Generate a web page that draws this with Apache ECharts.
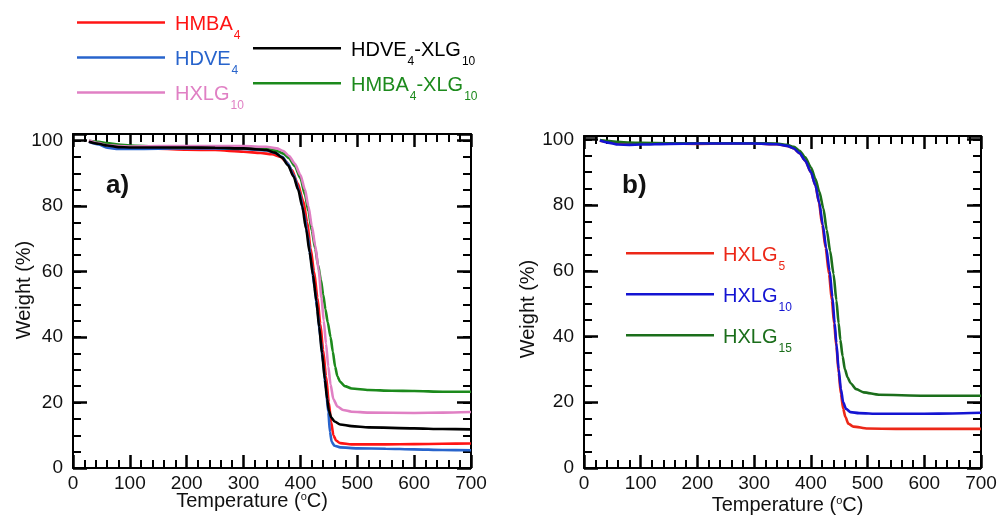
<!DOCTYPE html>
<html><head><meta charset="utf-8">
<script src="https://cdn.jsdelivr.net/npm/echarts@6/dist/echarts.min.js"></script>
<style>html,body{margin:0;padding:0;background:#fff}#c{width:998px;height:516px}</style>
</head><body><div id="c"></div>
<script>
// ---- tick values ----
const xTickValues = [0, 100, 200, 300, 400, 500, 600, 700];
const yTickValues = [0, 20, 40, 60, 80, 100];

// ---- panel a) (temperature °C, weight %) ----
const hmba4 = [[28,99.8],[45,99.2],[60,98.5],[80,97.9],[100,97.6],[150,97.5],[200,97.2],[250,97.1],[300,96.6],[330,96.2],[350,95.8],[365,95.0],[375,93.5],[385,91],[395,87],[405,81.5],[412,75],[418,67],[424,60],[430,52],[435,44],[440,36],[445,28],[450,20],[454,14],[458,10],[463,8.3],[470,7.6],[490,7.2],[550,7.2],[600,7.3],[650,7.4],[700,7.5]];
const hdve4 = [[28,99.6],[45,98.8],[60,97.8],[80,97.4],[100,97.4],[150,97.5],[200,97.6],[250,97.6],[300,97.4],[340,97.0],[355,96.3],[368,95],[378,93],[388,89.5],[398,84.5],[406,78],[413,71],[419,63],[425,55],[430,48],[435,40],[440,32],[445,24],[449,17],[452,11],[455,8],[460,6.8],[470,6.3],[500,6.0],[550,5.9],[600,5.7],[650,5.5],[700,5.4]];
const hxlg10a = [[28,100],[45,99.2],[60,98.6],[80,98.3],[100,98.2],[150,98.3],[200,98.3],[250,98.3],[300,98.3],[340,98.1],[358,97.6],[370,96.8],[380,95.3],[390,93],[400,89.5],[408,85],[414,80],[420,74],[426,68],[432,60.5],[437,52],[441,45],[445,38],[449,31],[453,25.5],[458,21],[465,18.8],[475,17.7],[490,17.2],[520,16.9],[600,16.8],[650,16.9],[700,17.1]];
const hdve4xlg10 = [[28,99.6],[45,99.0],[60,98.5],[80,98.0],[100,97.9],[150,97.9],[200,97.9],[250,97.8],[300,97.6],[340,97.1],[355,96.3],[368,94.8],[378,92.5],[388,89],[396,85],[403,80],[410,73],[416,66],[422,59],[428,51],[433,43],[438,35],[443,27],[447,21],[450,17.5],[454,15.5],[460,14.2],[470,13.3],[490,12.8],[520,12.4],[600,12.1],[650,11.9],[700,11.8]];
const hmba4xlg10 = [[28,99.9],[45,99.6],[60,99.2],[80,98.8],[100,98.5],[150,98.1],[200,97.9],[250,97.8],[300,97.7],[340,97.4],[358,96.9],[370,96.0],[380,94.6],[390,92.2],[400,88.5],[408,83.5],[414,78.5],[420,72.5],[426,67],[431,62],[436,57.5],[440,53],[444,48.5],[448,44.5],[453,40],[457,35.5],[461,31],[465,28],[470,26.3],[478,25],[490,24.3],[520,23.8],[560,23.6],[600,23.5],[650,23.3],[700,23.3]];

// ---- panel b) ----
const hxlg5 = [[28,99.6],[45,99.2],[60,98.9],[80,98.8],[100,98.8],[150,98.7],[200,98.6],[250,98.7],[300,98.7],[340,98.5],[358,98.0],[370,97.2],[380,95.8],[390,93.5],[400,90],[408,86],[414,81],[420,74],[426,67],[432,59],[437,51],[441,44],[445,37],[449,29],[453,22.5],[457,18],[461,15.5],[466,13.5],[475,12.6],[500,12.0],[550,11.9],[600,11.9],[650,11.9],[700,11.9]];
const hxlg10b = [[28,99.6],[45,98.9],[60,98.4],[80,98.3],[100,98.4],[150,98.6],[200,98.7],[250,98.7],[300,98.7],[340,98.5],[358,98.0],[370,97.2],[380,95.8],[390,93.5],[400,90],[408,86],[415,80.5],[421,74],[427,67],[433,60],[438,52],[442,44],[445,38],[449,30],[453,24],[457,20],[462,18],[470,17],[485,16.7],[520,16.5],[600,16.5],[650,16.6],[700,16.8]];
const hxlg15 = [[28,99.8],[45,99.5],[60,99.2],[80,99],[100,98.9],[150,98.8],[200,98.8],[250,98.8],[300,98.8],[340,98.7],[358,98.3],[370,97.7],[380,96.5],[390,94.5],[400,91.5],[408,88],[415,84],[422,79],[428,72.5],[434,66],[440,59],[445,51],[449,44],[452,39],[456,34],[460,30],[465,27.5],[470,25.8],[480,24],[493,23],[520,22.3],[600,22.0],[650,22.0],[700,22.0]];

// ---- names / labels ----
const seriesLabels = {
  'HMBA4': '{a|HMBA}{s|4}',
  'HDVE4': '{a|HDVE}{s|4}',
  'HXLG10 (a)': '{a|HXLG}{s|10}',
  'HDVE4-XLG10': '{a|HDVE}{s|4}{m|-XLG}{s|10}',
  'HMBA4-XLG10': '{a|HMBA}{s|4}{m|-XLG}{s|10}',
  'HXLG5': '{a|HXLG}{s|5}',
  'HXLG10 (b)': '{a|HXLG}{s|10}',
  'HXLG15': '{a|HXLG}{s|15}'
};
const colors = {
  'HMBA4': '#ff1414', 'HDVE4': '#2864cc', 'HXLG10 (a)': '#e080c4',
  'HDVE4-XLG10': '#000000', 'HMBA4-XLG10': '#1c8a1c',
  'HXLG5': '#ec2818', 'HXLG10 (b)': '#1414d2', 'HXLG15': '#1b6e1b'
};

const FONT = 'Liberation Sans, Arial, sans-serif';
const grids = [
  {left: 73, top: 134, width: 398, height: 334, outerBoundsMode: 'none', containLabel: false},
  {left: 584, top: 136, width: 397, height: 332, outerBoundsMode: 'none', containLabel: false}
];
const yMax = [102, 101];

const xAxes = [], yAxes = [];
const nameRich = {
  m: {fontSize: 20, lineHeight: 22, verticalAlign: 'top', fontFamily: FONT, color: '#111'},
  s: {fontSize: 11, lineHeight: 12, verticalAlign: 'top', fontFamily: FONT, color: '#111'}
};
grids.forEach((g, gi) => {
  ['bottom', 'top'].forEach(pos => {
    xAxes.push({
      type: 'value', gridIndex: gi, position: pos, offset: 0, min: 0, max: 700, interval: 100,
      name: pos === 'bottom' ? '{m|Temperature (}{s|o}{m|C)}' : '',
      nameLocation: 'middle', nameGap: gi === 0 ? 23 : 27, nameMoveOverlap: false,
      nameTextStyle: {rich: nameRich, padding: gi === 0 ? [0, 40, 0, 0] : [0, 0, 0, 10]},
      axisLine: {show: true, onZero: false, lineStyle: {color: '#000', width: 2}},
      axisTick: {show: true, inside: true, length: 13, lineStyle: {color: '#000', width: 2.5}},
      minorTick: {show: true, splitNumber: 5, length: 8, lineStyle: {color: '#000', width: 2}},
      splitLine: {show: false},
      axisLabel: {show: pos === 'bottom', fontSize: 19, color: '#111', fontFamily: FONT, margin: 6,
        formatter: v => xTickValues.includes(v) ? String(v) : ''}
    });
  });
  ['left', 'right'].forEach(pos => {
    // major ticks
    yAxes.push({
      type: 'value', gridIndex: gi, position: pos, offset: 0, min: 0, max: yMax[gi], interval: 20,
      name: pos === 'left' ? 'Weight (%)' : '',
      nameLocation: 'middle', nameGap: gi === 0 ? 39 : 46, nameRotate: 90, nameMoveOverlap: false,
      nameTextStyle: {fontSize: 20, color: '#111', fontFamily: FONT,
        padding: gi === 0 ? [0, 0, 0, 22] : [0, 14, 0, 0]},
      axisLine: {show: true, onZero: false, lineStyle: {color: '#000', width: 2}},
      axisTick: {show: true, inside: true, length: 14, lineStyle: {color: '#000', width: 2.5}},
      splitLine: {show: false},
      axisLabel: {show: pos === 'left', fontSize: 19, color: '#111', fontFamily: FONT, margin: 10,
        formatter: v => yTickValues.includes(v) ? String(v) : ''}
    });
    // minor ticks
    yAxes.push({
      type: 'value', gridIndex: gi, position: pos, offset: 0, min: 0, max: yMax[gi], interval: 5,
      axisLine: {show: false, onZero: false},
      axisTick: {show: true, inside: true, length: 8, lineStyle: {color: '#000', width: 2}},
      splitLine: {show: false}, axisLabel: {show: false}
    });
  });
});

function mk(name, data, gi) {
  return {
    name, type: 'line', data, xAxisIndex: gi * 2, yAxisIndex: gi * 4,
    showSymbol: false, symbol: 'none', smooth: 0.25, smoothMonotone: 'x',
    lineStyle: {color: colors[name], width: 2.6}, itemStyle: {color: colors[name]},
    emphasis: {disabled: true}, z: 3
  };
}
const series = [
  mk('HMBA4', hmba4, 0),
  mk('HDVE4', hdve4, 0),
  mk('HMBA4-XLG10', hmba4xlg10, 0),
  mk('HXLG10 (a)', hxlg10a, 0),
  mk('HDVE4-XLG10', hdve4xlg10, 0),
  mk('HXLG5', hxlg5, 1),
  mk('HXLG15', hxlg15, 1),
  mk('HXLG10 (b)', hxlg10b, 1)
];

function legend(names, left, top, gap, pad) {
  const rich = {
    a: {fontSize: 20, height: 20, lineHeight: 20, padding: [2, 0, 0, pad], verticalAlign: 'top', fontFamily: FONT},
    m: {fontSize: 20, height: 20, lineHeight: 20, padding: [2, 0, 0, 0], verticalAlign: 'top', fontFamily: FONT},
    s: {fontSize: 12, height: 12, lineHeight: 12, padding: [17, 0, 0, 1], verticalAlign: 'top', fontFamily: FONT}
  };
  return {
    orient: 'vertical', left, top, padding: 0, itemGap: gap,
    icon: 'rect', itemWidth: 88, itemHeight: 2.6, selectedMode: false,
    data: names.map(n => ({name: n, textStyle: {color: colors[n]}})),
    formatter: n => seriesLabels[n],
    textStyle: {rich}
  };
}

const chart = echarts.init(document.getElementById('c'), null, {renderer: 'canvas'});
chart.setOption({
  animation: false,
  backgroundColor: '#fff',
  grid: grids,
  xAxis: xAxes,
  yAxis: yAxes,
  legend: [
    legend(['HMBA4', 'HDVE4', 'HXLG10 (a)'], 77, 12.5, 6, 5),
    legend(['HDVE4-XLG10', 'HMBA4-XLG10'], 253, 38.2, 6, 5),
    legend(['HXLG5', 'HXLG10 (b)', 'HXLG15'], 626, 243.2, 12, 4)
  ],
  graphic: [
    {type: 'text', left: 106, top: 173, style: {text: 'a)', font: 'bold 26px ' + FONT, fill: '#111'}},
    {type: 'text', left: 622, top: 173, style: {text: 'b)', font: 'bold 26px ' + FONT, fill: '#111'}}
  ],
  series
});
</script>
</body></html>
